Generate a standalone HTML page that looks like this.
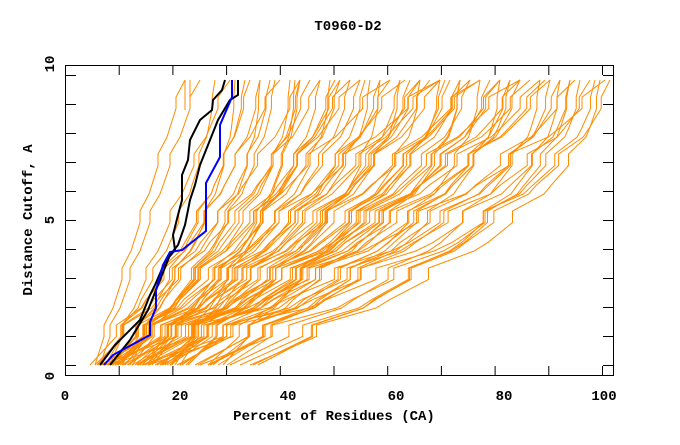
<!DOCTYPE html>
<html><head><meta charset="utf-8"><style>
html,body{margin:0;padding:0;background:#fff;}
svg text{font-family:"Liberation Mono",monospace;font-weight:bold;font-size:14px;fill:#000;}
</style></head><body>
<svg width="680" height="440" xmlns="http://www.w3.org/2000/svg">
<defs>
<path id="A" vector-effect="non-scaling-stroke" d="M0,1 L.1,.9 L.1,.86 L.2,.8 L.22,.78 L.3,.7 L.3,.66 L.4,.6 L.43,.57 L.5,.5 L.5,.46 L.6,.4 L.63,.37 L.7,.3 L.7,.26 L.8,.2 L.83,.17 L.9,.1 L.9,.06 L1,0"/>
<path id="B" vector-effect="non-scaling-stroke" d="M0,1 L.155,.9 L.155,.86 L.3,.8 L.33,.77 L.435,.7 L.435,.66 L.558,.6 L.59,.57 L.67,.5 L.67,.46 L.769,.4 L.79,.37 L.854,.3 L.854,.26 L.924,.2 L.94,.17 L.975,.1 L.975,.06 L1,0"/>
<path id="C" vector-effect="non-scaling-stroke" d="M0,1 L.19,.9 L.19,.86 L.36,.8 L.4,.77 L.51,.7 L.51,.66 L.64,.6 L.68,.57 L.75,.5 L.75,.46 L.84,.4 L.86,.37 L.91,.3 L.91,.26 L.96,.2 L.97,.17 L.99,.1 L.99,.06 L1,0"/>
<path id="D" vector-effect="non-scaling-stroke" d="M0,1 L.128,.9 L.128,.86 L.252,.8 L.28,.77 L.371,.7 L.371,.66 L.485,.6 L.51,.57 L.594,.5 L.594,.46 L.696,.4 L.72,.37 L.791,.3 L.791,.26 L.877,.2 L.9,.17 L.95,.1 L.95,.06 L1,0"/>
</defs>
<g fill="none" stroke="#ff8c00" stroke-width="1">
<use href="#A" transform="translate(95,80) scale(90,285)"/>
<use href="#A" transform="translate(100,80) scale(100,285)"/>
<use href="#B" transform="translate(105,80) scale(110,285)"/>
<use href="#A" transform="translate(110,80) scale(120,285)"/>
<use href="#B" transform="translate(98,80) scale(147,285)"/>
<use href="#C" transform="translate(120,80) scale(140,285)"/>
<use href="#B" transform="translate(112,80) scale(158,285)"/>
<use href="#A" transform="translate(130,80) scale(150,285)"/>
<use href="#C" transform="translate(102,80) scale(188,285)"/>
<use href="#B" transform="translate(115,80) scale(185,285)"/>
<use href="#D" transform="translate(125,80) scale(185,285)"/>
<use href="#B" transform="translate(140,80) scale(180,285)"/>
<use href="#C" transform="translate(108,80) scale(222,285)"/>
<use href="#D" transform="translate(118,80) scale(222,285)"/>
<use href="#B" transform="translate(135,80) scale(215,285)"/>
<use href="#A" transform="translate(150,80) scale(210,285)"/>
<use href="#C" transform="translate(100,80) scale(270,285)"/>
<use href="#B" transform="translate(122,80) scale(258,285)"/>
<use href="#D" transform="translate(145,80) scale(245,285)"/>
<use href="#C" transform="translate(110,80) scale(290,285)"/>
<use href="#B" transform="translate(128,80) scale(282,285)"/>
<use href="#C" transform="translate(138,80) scale(282,285)"/>
<use href="#D" transform="translate(160,80) scale(270,285)"/>
<use href="#C" transform="translate(105,80) scale(335,285)"/>
<use href="#B" transform="translate(132,80) scale(318,285)"/>
<use href="#C" transform="translate(148,80) scale(312,285)"/>
<use href="#D" transform="translate(115,80) scale(355,285)"/>
<use href="#C" transform="translate(195,80) scale(285,285)"/>
<use href="#B" transform="translate(155,80) scale(335,285)"/>
<use href="#C" transform="translate(210,80) scale(290,285)"/>
<use href="#C" transform="translate(100,80) scale(410,285)"/>
<use href="#B" transform="translate(198,80) scale(322,285)"/>
<use href="#D" transform="translate(135,80) scale(395,285)"/>
<use href="#C" transform="translate(230,80) scale(310,285)"/>
<use href="#C" transform="translate(110,80) scale(440,285)"/>
<use href="#B" transform="translate(208,80) scale(352,285)"/>
<use href="#C" transform="translate(142,80) scale(428,285)"/>
<use href="#C" transform="translate(200,80) scale(380,285)"/>
<use href="#B" transform="translate(160,80) scale(430,285)"/>
<use href="#C" transform="translate(250,80) scale(350,285)"/>
<use href="#D" transform="translate(145,80) scale(460,285)"/>
<use href="#A" transform="translate(170,80) scale(270,285)"/>
<use href="#B" transform="translate(165,80) scale(235,285)"/>
<use href="#A" transform="translate(175,80) scale(175,285)"/>
<use href="#B" transform="translate(180,80) scale(120,285)"/>
<use href="#D" transform="translate(95,80) scale(225,285)"/>
<use href="#B" transform="translate(103,80) scale(257,285)"/>
<use href="#D" transform="translate(113,80) scale(307,285)"/>
<use href="#B" transform="translate(123,80) scale(337,285)"/>
<use href="#D" transform="translate(213,80) scale(287,285)"/>
<use href="#D" transform="translate(143,80) scale(397,285)"/>
<use href="#A" transform="translate(223,80) scale(257,285)"/>
<use href="#D" transform="translate(163,80) scale(357,285)"/>
<use href="#C" transform="translate(253,80) scale(307,285)"/>
<use href="#B" transform="translate(90,80) scale(170,285)"/>
<use href="#D" transform="translate(97,80) scale(203,285)"/>
<use href="#B" transform="translate(107,80) scale(233,285)"/>
<use href="#A" transform="translate(117,80) scale(273,285)"/>
<use href="#D" transform="translate(127,80) scale(313,285)"/>
<use href="#B" transform="translate(137,80) scale(333,285)"/>
<use href="#B" transform="translate(227,80) scale(283,285)"/>
<use href="#D" transform="translate(157,80) scale(393,285)"/>
<use href="#C" transform="translate(167,80) scale(213,285)"/>
<use href="#C" transform="translate(177,80) scale(283,285)"/>
<use href="#D" transform="translate(186,80) scale(234,285)"/>
<use href="#C" transform="translate(112,80) scale(123,285)"/>
<use href="#D" transform="translate(122,80) scale(128,285)"/>
<use href="#B" transform="translate(132,80) scale(143,285)"/>
<use href="#C" transform="translate(142,80) scale(153,285)"/>
<use href="#D" transform="translate(152,80) scale(183,285)"/>
<use href="#B" transform="translate(162,80) scale(203,285)"/>
<use href="#A" transform="translate(172,80) scale(233,285)"/>
<use href="#B" transform="translate(182,80) scale(263,285)"/>
<use href="#A" transform="translate(188,80) scale(292,285)"/>
<use href="#A" transform="translate(118,80) scale(322,285)"/>
<use href="#A" transform="translate(208,80) scale(312,285)"/>
<use href="#D" transform="translate(218,80) scale(357,285)"/>
<use href="#C" transform="translate(148,80) scale(447,285)"/>
<use href="#B" transform="translate(258,80) scale(352,285)"/>
<use href="#D" transform="translate(180,80) scale(365,285)"/>
<use href="#C" transform="translate(240,80) scale(330,285)"/>
<use href="#D" transform="translate(170,80) scale(330,285)"/>
<line x1="185" y1="80" x2="185" y2="110"/><line x1="190" y1="80" x2="190" y2="105"/>
</g>
<polyline fill="none" stroke="#000" stroke-width="2" points="100,365 115,345 140,320 150,295 155,285 165,262 175,250 173,235 178,215 182,200 182,175 188,160 190,140 200,120 212,110 213,100 222,90 225,80"/>
<polyline fill="none" stroke="#000" stroke-width="2" points="110,365 130,340 148,310 160,280 170,255 178,245 185,225 190,200 195,185 200,165 210,140 218,120 230,100 238,95 238,80"/>
<polyline fill="none" stroke="#0000ff" stroke-width="2" points="104,365 113,355 150,335 150,322 156,308 156,290 163,265 170,252 182,250 206,231 206,183 220,157 220,125 232,97 232,80"/>
<rect x="65.5" y="65.5" width="548" height="310" fill="none" stroke="#000" stroke-width="1"/>
<g stroke="#000" stroke-width="1">
<path d="M65.5,375.5V366M119.2,375.5V366M172.9,375.5V366M226.6,375.5V366M280.3,375.5V366M334,375.5V366M387.7,375.5V366M441.4,375.5V366M495.1,375.5V366M548.8,375.5V366M602.5,375.5V366
M65.5,65.5V75M119.2,65.5V75M172.9,65.5V75M226.6,65.5V75M280.3,65.5V75M334,65.5V75M387.7,65.5V75M441.4,65.5V75M495.1,65.5V75M548.8,65.5V75M602.5,65.5V75
M65.5,365.5H76M65.5,336.5H76M65.5,307.5H76M65.5,278.5H76M65.5,249.5H76M65.5,220.5H76M65.5,191.5H76M65.5,162.5H76M65.5,133.5H76M65.5,104.5H76M65.5,75.5H76
M613.5,365.5H603M613.5,336.5H603M613.5,307.5H603M613.5,278.5H603M613.5,249.5H603M613.5,220.5H603M613.5,191.5H603M613.5,162.5H603M613.5,133.5H603M613.5,104.5H603M613.5,75.5H603"/>
</g>
<text x="348" y="30" text-anchor="middle">T0960-D2</text>
<text x="334" y="420" text-anchor="middle">Percent of Residues (CA)</text>
<text transform="translate(32,220) rotate(-90)" text-anchor="middle">Distance Cutoff, A</text>
<g text-anchor="middle">
<text x="65" y="400">0</text><text x="180" y="400">20</text><text x="288" y="400">40</text>
<text x="396" y="400">60</text><text x="504" y="400">80</text><text x="604" y="400">100</text>
</g>
<text transform="translate(54,376) rotate(-90)" text-anchor="middle">0</text>
<text transform="translate(54,220) rotate(-90)" text-anchor="middle">5</text>
<text transform="translate(54,64) rotate(-90)" text-anchor="middle">10</text>
</svg>
</body></html>
